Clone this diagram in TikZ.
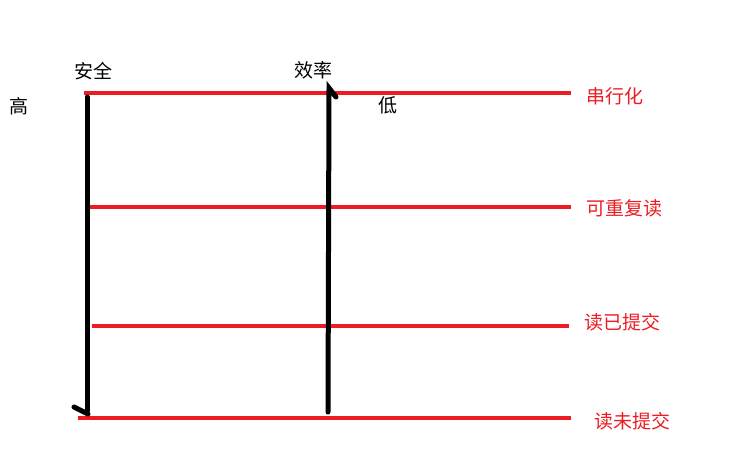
\documentclass[tikz,border=0pt]{standalone}
\usepackage{fontspec}
\setmainfont{Noto Sans CJK SC}
\usepackage{tikz}
\usetikzlibrary{positioning}
\definecolor{paintred}{HTML}{ED1C24}

\begin{document}
\begin{tikzpicture}[
  x=1pt, y=-1pt,
  every node/.style={font=\fontsize{19}{21}\selectfont, inner sep=0pt},
  level/.style={draw=paintred, line width=4pt},
  axis/.style={draw=black, line width=5pt, line cap=round},
  lvlabel/.style={text=paintred},
  axlabel/.style={text=black}
]
\useasboundingbox (0,0) rectangle (746,467);

% axis labels
\node[axlabel] (safe) at (93,71) {安全};
\node[axlabel] (eff) at (313,70) {效率};
\node[axlabel] (high) at (19,106) {高};
\node[axlabel] (low) at (388,105) {低};

% isolation levels
\node[lvlabel] (ser) at (615,96) {串行化};
\node[lvlabel] (rr) at (624,208) {可重复读};
\node[lvlabel] (rc) at (622,322) {读已提交};
\node[lvlabel] (ru) at (632,421) {读未提交};

\coordinate (s1) at (84,93);  \coordinate (e1) at (571,93);
\coordinate (s2) at (88,207); \coordinate (e2) at (571,207);
\coordinate (s3) at (92,326); \coordinate (e3) at (569,326);
\coordinate (s4) at (78,418); \coordinate (e4) at (571,418);

\draw[level] (s1) -- (e1);
\draw[level] (s2) -- (e2);
\draw[level] (s3) -- (e3);
\draw[level] (s4) -- (e4);

% safety: high -> low, efficiency: low -> high
\coordinate (safetop) at (87,97);
\coordinate (safebot) at (87,411);
\coordinate (safebarb) at (74,407);
\draw[axis] (safetop) -- (safebot);
\draw[axis] (safebarb) -- (88,414);

\coordinate (effbot) at (328,412);
\coordinate (efftop) at (329,88);
\coordinate (effbarb) at (336,97);
\draw[axis] (effbot) -- (efftop) -- (effbarb);

\end{tikzpicture}
\end{document}
